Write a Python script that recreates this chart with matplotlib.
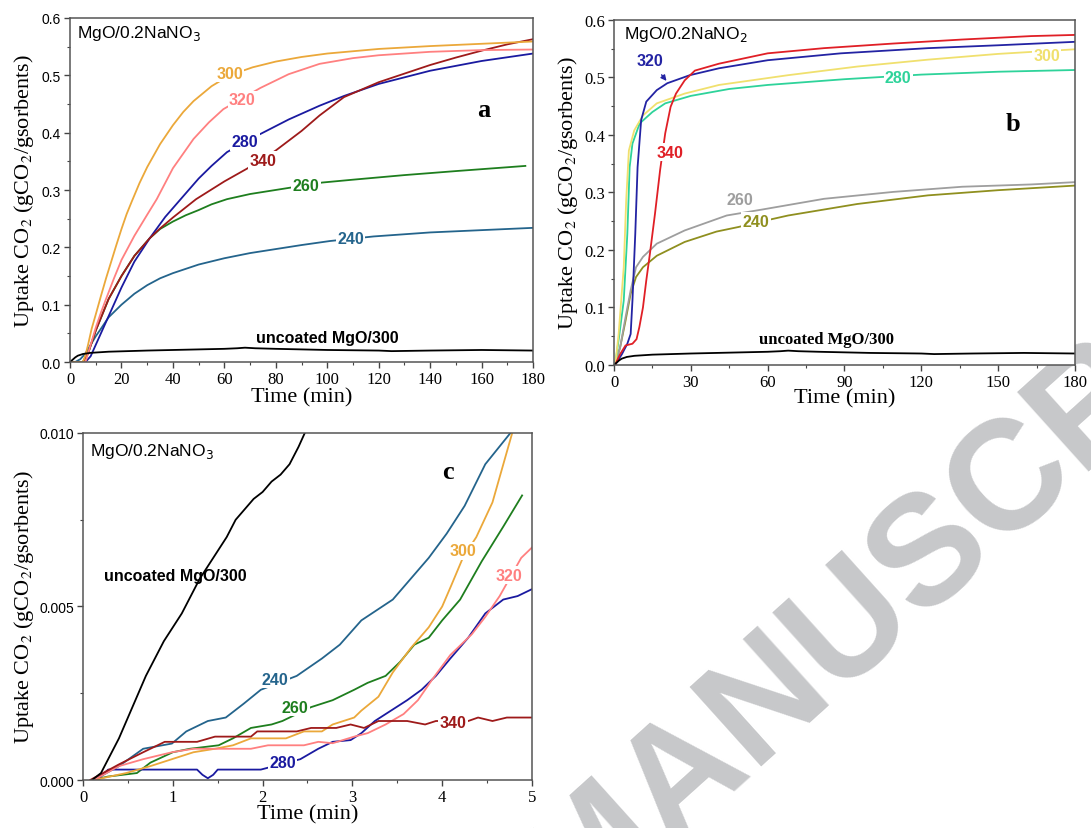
import matplotlib
matplotlib.use("Agg")
import matplotlib.pyplot as plt
from matplotlib.ticker import MultipleLocator, FormatStrFormatter

# ===== panel a : MgO/0.2NaNO3, 0-180 min =====
A240_T = [0, 2, 4, 6, 8, 10, 12, 15, 20, 25, 30, 35, 40, 50, 60, 70, 80, 90, 101, 118, 140, 160, 180]
A240_Y = [0, 0, 0.005, 0.015, 0.03, 0.045, 0.058, 0.078, 0.1, 0.119, 0.134, 0.146, 0.155, 0.17,
          0.181, 0.19, 0.197, 0.204, 0.211, 0.219, 0.226, 0.23, 0.234]
A260_T = [0, 5, 7, 10, 15, 20, 25, 31, 35, 40, 45, 50, 55, 61, 70, 85.5, 98, 110, 130, 150, 165, 177]
A260_Y = [0, 0, 0.015, 0.055, 0.11, 0.15, 0.185, 0.216, 0.232, 0.245, 0.256, 0.265, 0.275, 0.284,
          0.293, 0.304, 0.313, 0.318, 0.326, 0.333, 0.338, 0.342]
A280_T = [0, 6, 8, 10, 12, 15, 20, 25, 31, 37, 43.4, 50, 55, 61, 68, 75, 85, 97, 106.5, 120, 140,
          160, 180]
A280_Y = [0, 0, 0.01, 0.03, 0.05, 0.08, 0.13, 0.175, 0.216, 0.253, 0.286, 0.32, 0.342, 0.366, 0.384,
          0.4, 0.423, 0.447, 0.464, 0.485, 0.508, 0.525, 0.538]
A300_T = [0, 5, 6, 7, 8.4, 10, 12, 14, 16, 18, 20, 22, 24, 27, 30, 35, 40, 44, 48, 55, 62, 71, 80,
          90, 100, 120, 140, 160, 180]
A300_Y = [0, 0, 0.012, 0.03, 0.058, 0.083, 0.115, 0.146, 0.175, 0.204, 0.232, 0.258, 0.28, 0.312,
          0.34, 0.38, 0.413, 0.436, 0.455, 0.481, 0.5, 0.514, 0.524, 0.532, 0.538, 0.546, 0.551,
          0.555, 0.559]
A320_T = [0, 6, 8, 10, 12, 14, 17, 20, 25, 30, 33.7, 40, 48, 54, 59.6, 67, 74, 85, 97, 110, 120,
          140, 160, 180]
A320_Y = [0, 0, 0.03, 0.06, 0.086, 0.11, 0.145, 0.178, 0.22, 0.257, 0.284, 0.338, 0.389, 0.418,
          0.441, 0.46, 0.478, 0.502, 0.52, 0.53, 0.535, 0.541, 0.544, 0.545]
A340_T = [0, 5, 7, 10, 15, 20, 25, 31, 35, 40, 49, 60, 68.7, 75, 80, 90, 97, 106.5, 120, 140, 150,
          160, 170, 180]
A340_Y = [0, 0, 0.015, 0.055, 0.11, 0.15, 0.185, 0.216, 0.233, 0.252, 0.284, 0.315, 0.337, 0.354,
          0.369, 0.403, 0.43, 0.462, 0.488, 0.518, 0.531, 0.543, 0.554, 0.563]

# uncoated MgO at 300 C (same run shown in a and b)
BARE_T = [0, 1, 2, 3, 5, 8, 15, 30, 50, 60, 65, 68, 72, 80, 100, 120, 125, 140, 160, 180]
BARE_Y = [0, 0.004, 0.008, 0.011, 0.014, 0.016, 0.018, 0.02, 0.022, 0.023, 0.024, 0.025, 0.024,
          0.023, 0.021, 0.02, 0.019, 0.02, 0.021, 0.02]

# ===== panel b : MgO/0.2NaNO2, 0-180 min =====
B240_T = [0, 0.4, 2.4, 4.5, 6.5, 8.6, 11.3, 16.7, 27.6, 40, 48.6, 55, 68, 95, 122.6, 150, 180]
B240_Y = [0, 0, 0.031, 0.077, 0.124, 0.153, 0.17, 0.19, 0.214, 0.232, 0.24, 0.247, 0.26, 0.28,
          0.295, 0.304, 0.312]
B260_T = [0, 0.4, 2.4, 4.5, 6.5, 8.6, 11.3, 16.7, 27.6, 44, 57.4, 82, 109, 136, 163, 180]
B260_Y = [0, 0, 0.031, 0.083, 0.13, 0.17, 0.188, 0.211, 0.234, 0.26, 0.27, 0.289, 0.301, 0.31,
          0.314, 0.318]
B280_T = [0, 0.4, 2, 3.8, 5.2, 6.1, 7.2, 10, 15, 20, 30, 45, 60, 90, 120, 150, 180]
B280_Y = [0, 0, 0.05, 0.112, 0.228, 0.344, 0.385, 0.42, 0.44, 0.455, 0.468, 0.48, 0.487, 0.497,
          0.505, 0.51, 0.513]
B300_T = [0, 0.5, 1.8, 3.8, 4.75, 5.8, 7.9, 11.3, 16.7, 27.6, 41, 68, 95, 122.6, 150, 180]
B300_Y = [0, 0, 0.054, 0.17, 0.286, 0.373, 0.408, 0.434, 0.455, 0.472, 0.487, 0.504, 0.519, 0.531,
          0.541, 0.549]
B320_T = [0, 0.4, 3.1, 5.2, 6.5, 7.2, 8.3, 9.2, 10.6, 12.6, 16.7, 20.8, 29.6, 41, 60, 88.6, 122.6,
          150, 180]
B320_Y = [0, 0, 0.019, 0.037, 0.054, 0.112, 0.228, 0.344, 0.426, 0.458, 0.478, 0.49, 0.504, 0.516,
          0.53, 0.542, 0.551, 0.556, 0.562]
B340_T = [0, 0.4, 2.4, 4.5, 7.2, 8.8, 9.9, 11.3, 12.6, 14, 16, 18, 20, 22.1, 24.2, 27.6, 31.6, 41,
          60, 82, 109, 136, 163, 180]
B340_Y = [0, 0, 0.019, 0.034, 0.037, 0.045, 0.066, 0.1, 0.147, 0.193, 0.263, 0.339, 0.403, 0.449,
          0.472, 0.495, 0.512, 0.524, 0.542, 0.551, 0.559, 0.566, 0.572, 0.574]

# ===== panel c : first 5 min of panel a =====
C240_T = [0.12, 0.4, 0.67, 0.99, 1.15, 1.39, 1.59, 1.79, 1.98, 2.38, 2.66, 2.86, 3.1, 3.45, 3.85,
          4.05, 4.25, 4.48, 4.76]
C240_Y = [0, 0.0004, 0.0009, 0.00105, 0.0014, 0.0017, 0.0018, 0.0022, 0.0026, 0.003, 0.0035, 0.0039,
          0.0046, 0.0052, 0.0064, 0.0071, 0.0079, 0.0091, 0.01]
C260_T = [0.1, 0.28, 0.6, 0.75, 1.0, 1.19, 1.51, 1.67, 1.87, 2.1, 2.22, 2.54, 2.78, 3.02, 3.17, 3.37,
          3.53, 3.69, 3.85, 4.0, 4.2, 4.44, 4.68, 4.89]
C260_Y = [0, 0.0001, 0.0002, 0.0005, 0.0008, 0.0009, 0.001, 0.0012, 0.0015, 0.0016, 0.0017, 0.0021,
          0.0023, 0.0026, 0.0028, 0.003, 0.0034, 0.0039, 0.0041, 0.0046, 0.0052, 0.0063, 0.0073,
          0.0082]
C280_T = [0.16, 0.28, 1.27, 1.33, 1.39, 1.45, 1.5, 1.98, 2.42, 2.62, 2.78, 2.98, 3.1, 3.25, 3.37,
          3.49, 3.61, 3.77, 3.93, 4.09, 4.29, 4.48, 4.68, 4.84, 5.0]
C280_Y = [0, 0.0003, 0.0003, 0.00015, 0.00005, 0.00015, 0.0003, 0.0003, 0.0006, 0.0009, 0.0011,
          0.00115, 0.00135, 0.0017, 0.0019, 0.0021, 0.0023, 0.0026, 0.003, 0.0035, 0.0041, 0.0048,
          0.0052, 0.0053, 0.0055]
C300_T = [0.12, 0.48, 0.75, 0.99, 1.23, 1.47, 1.67, 1.87, 2.26, 2.46, 2.66, 2.78, 3.02, 3.1, 3.29,
          3.45, 3.65, 3.85, 4.0, 4.1, 4.23, 4.38, 4.56, 4.78]
C300_Y = [0, 0.0002, 0.0004, 0.0006, 0.0008, 0.0009, 0.001, 0.0012, 0.0012, 0.0014, 0.0014, 0.0016,
          0.0018, 0.002, 0.0024, 0.0031, 0.0038, 0.0044, 0.005, 0.0056, 0.0064, 0.007, 0.008, 0.01]
C320_T = [0.12, 0.4, 0.67, 0.99, 1.23, 1.87, 2.06, 2.46, 2.62, 2.78, 3.02, 3.17, 3.37, 3.57, 3.73,
          3.89, 4.09, 4.33, 4.48, 4.64, 4.88, 5.0]
C320_Y = [0, 0.0004, 0.0006, 0.0008, 0.0009, 0.0009, 0.001, 0.001, 0.0011, 0.00106, 0.00125,
          0.00135, 0.0016, 0.0019, 0.0023, 0.0029, 0.0036, 0.0042, 0.0047, 0.0053, 0.0064, 0.0067]
C340_T = [0.08, 0.4, 0.67, 0.91, 1.27, 1.47, 1.87, 1.94, 2.38, 2.54, 2.82, 2.98, 3.13, 3.29, 3.61,
          3.81, 3.93, 4.29, 4.4, 4.56, 4.72, 5.0]
C340_Y = [0, 0.00045, 0.0008, 0.0011, 0.0011, 0.00125, 0.00125, 0.0014, 0.0014, 0.0015, 0.0015,
          0.0016, 0.0015, 0.0017, 0.0017, 0.0016, 0.0017, 0.0017, 0.0018, 0.0017, 0.0018, 0.0018]
CBARE_T = [0.1, 0.2, 0.3, 0.4, 0.5, 0.6, 0.7, 0.8, 0.9, 1.0, 1.1, 1.2, 1.3, 1.4, 1.5, 1.6, 1.7, 1.8,
           1.9, 2.0, 2.1, 2.2, 2.3, 2.4, 2.47]
CBARE_Y = [0, 0.0002, 0.0007, 0.0012, 0.0018, 0.0024, 0.003, 0.0035, 0.004, 0.0044, 0.0048, 0.0053,
           0.0058, 0.0062, 0.0066, 0.007, 0.0075, 0.0078, 0.0081, 0.0083, 0.0086, 0.0088, 0.0091,
           0.0096, 0.01]

# ===== colours =====
COL_A = {"240": "#24648C", "260": "#1E7E1E", "280": "#1A1AA0",
         "300": "#EBA83A", "320": "#FF8080", "340": "#9E1A1A"}
COL_B = {"240": "#8F8F1F", "260": "#9E9E9E", "280": "#2ED39A",
         "300": "#F0E06E", "320": "#2323A3", "340": "#E01F26"}

SERIF = "Liberation Serif"
SANS = "Liberation Sans"
LW = 1.3
YLABEL = "Uptake CO$_2$ (gCO$_2$/gsorbents)"


def style_axes(ax, xmax, xmaj, xmin, ymax, ymaj, ymin, yfmt, ysans):
    ax.set_xlim(0, xmax)
    ax.set_ylim(0, ymax)
    ax.xaxis.set_major_locator(MultipleLocator(xmaj))
    ax.xaxis.set_minor_locator(MultipleLocator(xmin))
    ax.yaxis.set_major_locator(MultipleLocator(ymaj))
    ax.yaxis.set_minor_locator(MultipleLocator(ymin))
    ax.yaxis.set_major_formatter(FormatStrFormatter(yfmt))
    ax.tick_params(which="both", direction="out", color="#444444", top=False, right=False)
    ax.tick_params(which="major", length=4, width=1, pad=2.5)
    ax.tick_params(which="minor", length=2.5, width=0.8)
    for lab in ax.get_xticklabels():
        lab.set_fontfamily(SERIF)
        lab.set_fontsize(12)
    for lab in ax.get_yticklabels():
        if ysans:
            lab.set_fontfamily(SANS)
            lab.set_fontsize(10)
        else:
            lab.set_fontfamily(SERIF)
            lab.set_fontsize(12)
    for sp in ax.spines.values():
        sp.set_color("#555555")
        sp.set_linewidth(1.1)
    ax.set_xlabel("Time (min)", family=SERIF, fontsize=16, labelpad=0)
    ax.set_ylabel(YLABEL, family=SERIF, fontsize=16, math_fontfamily="stix")


def tag(ax, x, y, s, color, bg=True, **kw):
    box = dict(boxstyle="square,pad=0.08", fc="white", ec="none") if bg else None
    ax.text(x, y, s, color=color, family=SANS, fontweight="bold", fontsize=11.5,
            ha="center", va="center", bbox=box, zorder=6, **kw)


fig = plt.figure(figsize=(10.91, 8.29), dpi=100)

# watermark sits behind the panels
fig.text(0.500, -0.082, "MANUSCRIPT", rotation=42, rotation_mode="anchor", ha="left",
         va="center", fontsize=112, fontweight="bold", color="#C7C8CA", family=SANS, zorder=-1)

axa = fig.add_axes([0.0642, 0.5621, 0.4244, 0.4150])
axb = fig.add_axes([0.5628, 0.5585, 0.4225, 0.4162])
axc = fig.add_axes([0.0761, 0.0579, 0.4115, 0.4186])

# ---- a ----
for key, t, y in [("240", A240_T, A240_Y), ("260", A260_T, A260_Y), ("280", A280_T, A280_Y),
                  ("340", A340_T, A340_Y), ("320", A320_T, A320_Y), ("300", A300_T, A300_Y)]:
    axa.plot(t, y, color=COL_A[key], lw=LW)
axa.plot(BARE_T, BARE_Y, color="black", lw=LW)
style_axes(axa, 180, 20, 10, 0.6, 0.1, 0.05, "%.1f", True)
tag(axa, 62, 0.503, "300", COL_A["300"])
tag(axa, 67, 0.457, "320", COL_A["320"])
tag(axa, 68, 0.384, "280", COL_A["280"])
tag(axa, 75, 0.352, "340", COL_A["340"])
tag(axa, 91.7, 0.308, "260", COL_A["260"])
tag(axa, 109, 0.215, "240", COL_A["240"])
tag(axa, 100, 0.043, "uncoated MgO/300", "black", bg=False)
axa.text(2.7, 0.574, "MgO/0.2NaNO$_3$", family=SANS, fontsize=12.5, ha="left", va="center",
         math_fontfamily="dejavusans")
axa.text(161, 0.44, "a", family=SERIF, fontweight="bold", fontsize=19, ha="center", va="center")
axa.yaxis.set_label_coords(-0.073, 0.5)
axa.xaxis.set_label_coords(0.5, -0.072)

# ---- b ----
for key, t, y in [("240", B240_T, B240_Y), ("260", B260_T, B260_Y), ("280", B280_T, B280_Y),
                  ("300", B300_T, B300_Y), ("320", B320_T, B320_Y), ("340", B340_T, B340_Y)]:
    axb.plot(t, y, color=COL_B[key], lw=LW)
axb.plot(BARE_T, BARE_Y, color="black", lw=LW)
style_axes(axb, 180, 30, 15, 0.6, 0.1, 0.05, "%.1f", False)
axb.annotate("320", xy=(20.5, 0.494), xytext=(14, 0.53), color=COL_B["320"], family=SANS,
             fontweight="bold", fontsize=11.5, ha="center", va="center",
             arrowprops=dict(arrowstyle="-|>", color=COL_B["320"], lw=1, mutation_scale=8,
                             shrinkA=4, shrinkB=0))
tag(axb, 21.9, 0.37, "340", COL_B["340"])
tag(axb, 169, 0.538, "300", COL_B["300"])
tag(axb, 111, 0.5, "280", COL_B["280"])
tag(axb, 49, 0.288, "260", COL_B["260"])
tag(axb, 55.4, 0.25, "240", COL_B["240"])
axb.text(83, 0.046, "uncoated MgO/300", family=SERIF, fontweight="bold", fontsize=12,
         ha="center", va="center")
axb.text(3.8, 0.576, "MgO/0.2NaNO$_2$", family=SANS, fontsize=12.5, ha="left", va="center",
         math_fontfamily="dejavusans")
axb.text(155.8, 0.42, "b", family=SERIF, fontweight="bold", fontsize=19, ha="center", va="center")
axb.yaxis.set_label_coords(-0.073, 0.5)
axb.xaxis.set_label_coords(0.5, -0.068)

# ---- c ----
for key, t, y in [("240", C240_T, C240_Y), ("260", C260_T, C260_Y), ("280", C280_T, C280_Y),
                  ("300", C300_T, C300_Y), ("320", C320_T, C320_Y), ("340", C340_T, C340_Y)]:
    axc.plot(t, y, color=COL_A[key], lw=LW)
axc.plot(CBARE_T, CBARE_Y, color="black", lw=LW)
style_axes(axc, 5, 1, 0.5, 0.010, 0.005, 0.0025, "%.3f", True)
tag(axc, 2.14, 0.0029, "240", COL_A["240"])
tag(axc, 2.36, 0.0021, "260", COL_A["260"])
tag(axc, 4.23, 0.0066, "300", COL_A["300"])
tag(axc, 4.74, 0.0059, "320", COL_A["320"])
tag(axc, 2.22, 0.0005, "280", COL_A["280"])
tag(axc, 4.12, 0.00167, "340", COL_A["340"])
tag(axc, 1.03, 0.0059, "uncoated MgO/300", "black", bg=False)
axc.text(0.08, 0.0095, "MgO/0.2NaNO$_3$", family=SANS, fontsize=12.5, ha="left", va="center",
         math_fontfamily="dejavusans")
axc.text(4.06, 0.0089, "c", family=SERIF, fontweight="bold", fontsize=19, ha="center", va="center")
axc.yaxis.set_label_coords(-0.105, 0.5)
axc.xaxis.set_label_coords(0.5, -0.069)

fig.savefig("out.png", dpi=100, facecolor="white")
